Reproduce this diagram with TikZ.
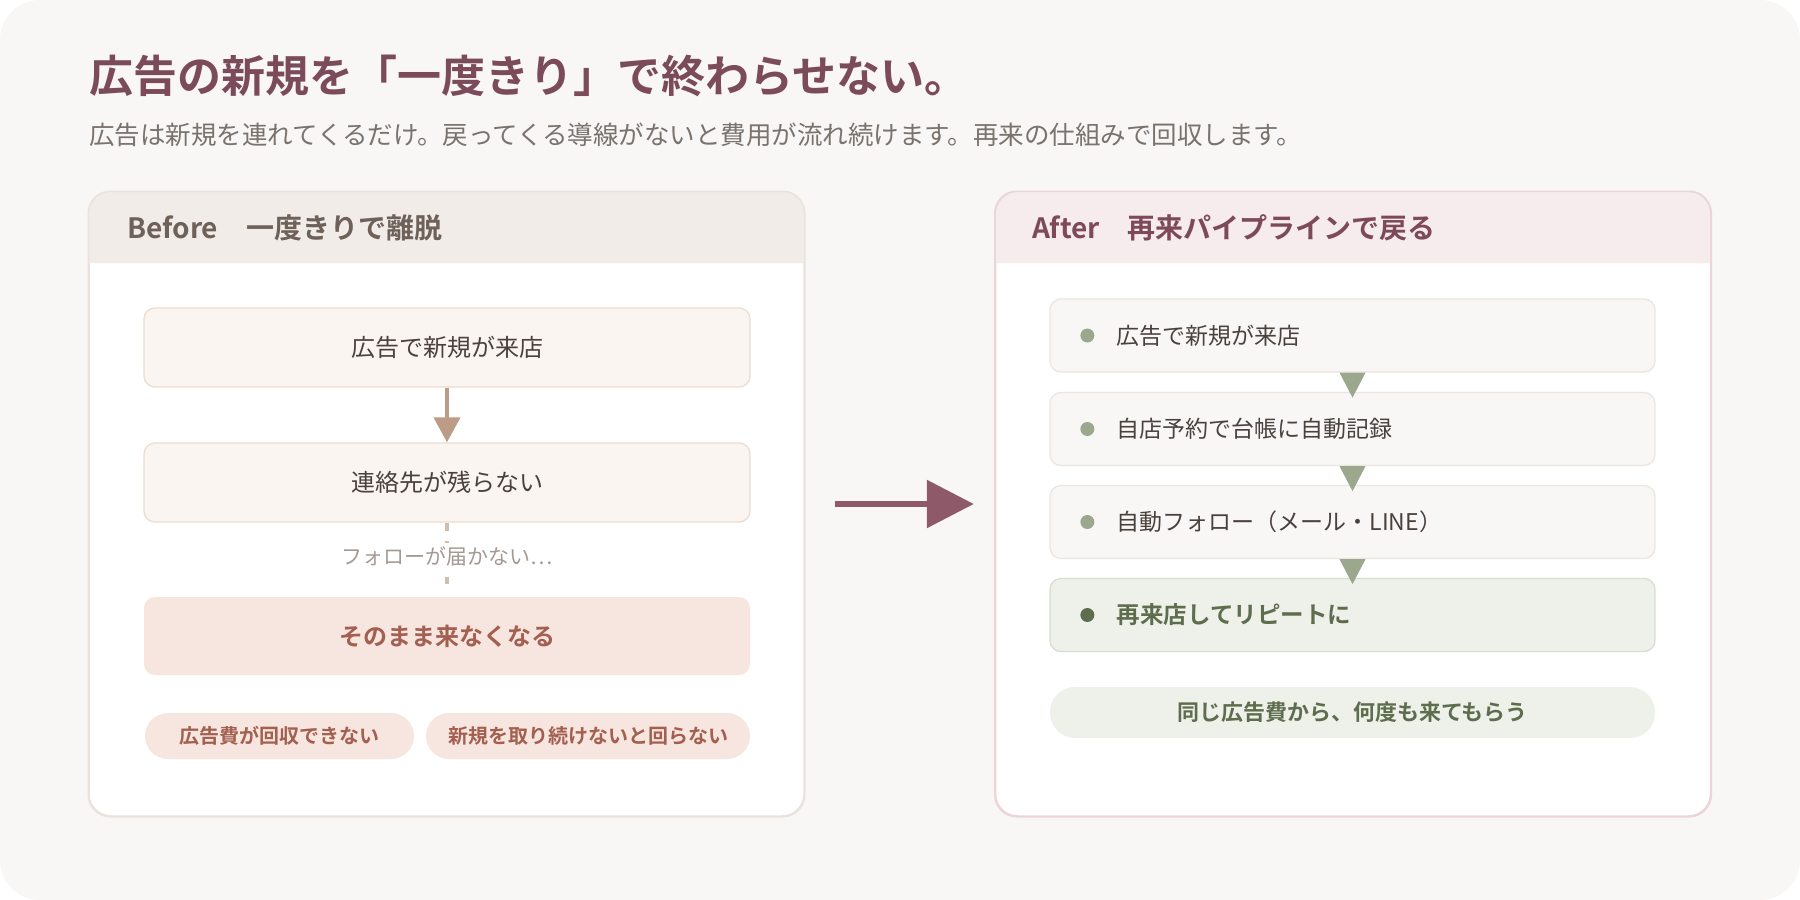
\documentclass[tikz,border=0pt]{standalone}
\usepackage{fontspec}
\setmainfont{Noto Sans CJK JP}[BoldFont={Noto Sans CJK JP Bold}]
\usetikzlibrary{arrows.meta,positioning}
\definecolor{bgcol}{HTML}{F8F7F5}
\definecolor{titlecol}{HTML}{7B4B5B}
\definecolor{subcol}{HTML}{7A726D}
\definecolor{ink}{HTML}{4A413D}
\definecolor{beforecol}{HTML}{6E6159}
\definecolor{beforehd}{HTML}{F1ECE8}
\definecolor{beforeln}{HTML}{EAE3DD}
\definecolor{aftercol}{HTML}{7E4A5B}
\definecolor{afterhd}{HTML}{F6ECEE}
\definecolor{afterln}{HTML}{EBD5DA}
\definecolor{sandfill}{HTML}{FAF5F1}
\definecolor{sandln}{HTML}{EDDDD0}
\definecolor{sandarr}{HTML}{BC9C87}
\definecolor{dashcol}{HTML}{D0BFAF}
\definecolor{notecol}{HTML}{A59A93}
\definecolor{rosefill}{HTML}{F7E6DF}
\definecolor{rosetext}{HTML}{A35F4F}
\definecolor{greyfill}{HTML}{F8F7F5}
\definecolor{greyln}{HTML}{ECE6E0}
\definecolor{sage}{HTML}{9BA88E}
\definecolor{sagefill}{HTML}{EEF1EA}
\definecolor{sageln}{HTML}{D8DECE}
\definecolor{moss}{HTML}{5E6D4D}
\definecolor{plum}{HTML}{8E5A69}
\begin{document}
\begin{tikzpicture}[x=1pt,y=-1pt,
    panel/.style={fill=white, line width=1.5pt, rounded corners=22pt, minimum width=715pt, minimum height=624pt, inner sep=0pt},
    flowbox/.style={draw=sandln, fill=sandfill, line width=1.3pt, rounded corners=11pt, minimum width=606pt, minimum height=79pt, inner sep=0pt, text=ink, font=\fontsize{24}{28}\selectfont},
    stepcard/.style={draw=greyln, fill=greyfill, line width=1.3pt, rounded corners=11pt, minimum width=605pt, minimum height=73pt, inner sep=0pt},
    pill/.style={fill=rosefill, rounded corners=23pt, minimum height=46pt, inner sep=0pt, text=rosetext, font=\fontsize{20}{24}\selectfont\bfseries},
    dot/.style={circle, fill=sage, minimum size=14pt, inner sep=0pt},
    steptext/.style={anchor=west, inner sep=0pt, text=ink, font=\fontsize{23}{27}\selectfont}]
  \useasboundingbox (0,0) rectangle (1800,900);
  \fill[white] (0,0) rectangle (1800,900);
  \fill[bgcol, rounded corners=40pt] (0,0) rectangle (1800,900);

  \node[anchor=west, inner sep=0pt, text=titlecol, font=\fontsize{44}{50}\selectfont\bfseries] (title) at (89,76) {広告の新規を「一度きり」で終わらせない。};
  \node[anchor=west, inner sep=0pt, text=subcol, font=\fontsize{25.5}{30}\selectfont] (subtitle) at (89,135) {広告は新規を連れてくるだけ。戻ってくる導線がないと費用が流れ続けます。再来の仕組みで回収します。};

  % before
  \node[panel, draw=beforeln] (leftpanel) at (446.5,504) {};
  \fill[beforehd, rounded corners=22pt] (89,263) -- (89,192) -- (804,192) -- (804,263);
  \draw[beforeln, line width=1.5pt, rounded corners=22pt] (leftpanel.south west) rectangle (leftpanel.north east);
  \node[anchor=west, inner sep=0pt, text=beforecol, font=\fontsize{28}{32}\selectfont\bfseries] (beforehead) at (127,228) {Before　一度きりで離脱};

  \node[flowbox] (visit) at (447,347.5) {広告で新規が来店};
  \node[flowbox] (nocontact) at (447,482.5) {連絡先が残らない};
  \node[flowbox, draw=none, fill=rosefill, minimum height=78pt, text=rosetext, font=\fontsize{24}{28}\selectfont\bfseries] (gone) at (447,636) {そのまま来なくなる};
  \draw[sandarr, line width=4pt, -{Triangle[width=26pt,length=25pt]}] (visit) -- (nocontact);
  \draw[dashcol, line width=3.5pt, dash pattern=on 8pt off 10pt] (nocontact.south) -- ([yshift=12pt]gone.north);
  \node[fill=white, inner xsep=2pt, inner ysep=3pt, text=notecol, font=\fontsize{21}{25}\selectfont] (nofollow) at (447,556) {フォローが届かない…};

  \node[pill, minimum width=269pt] (lost) at (279.5,736) {広告費が回収できない};
  \node[pill, minimum width=324pt] (treadmill) at (588,736) {新規を取り続けないと回らない};

  % after
  \node[panel, draw=afterln] (rightpanel) at (1353,504) {};
  \fill[afterhd, rounded corners=22pt] (996,263) -- (996,192) -- (1710,192) -- (1710,263);
  \draw[afterln, line width=1.5pt, rounded corners=22pt] (rightpanel.south west) rectangle (rightpanel.north east);
  \node[anchor=west, inner sep=0pt, text=aftercol, font=\fontsize{28}{32}\selectfont\bfseries] (afterhead) at (1032,228) {After　再来パイプラインで戻る};

  \node[stepcard] (stepA) at (1352.5,335.5) {};
  \node[stepcard] (stepB) at (1352.5,429) {};
  \node[stepcard] (stepC) at (1352.5,522) {};
  \node[stepcard, draw=sageln, fill=sagefill] (stepD) at (1352.5,615) {};
  \foreach \a/\b in {stepA/stepB, stepB/stepC, stepC/stepD}
    \fill[sage] ([xshift=-13pt]\a.south) -- ([xshift=13pt]\a.south) -- ([yshift=-25pt]\a.south) -- cycle;

  \node[dot] (dotA) at ([xshift=38pt]stepA.west) {};
  \node[steptext, right=22pt of dotA] (textA) {広告で新規が来店};
  \node[dot] (dotB) at ([xshift=38pt]stepB.west) {};
  \node[steptext, right=22pt of dotB] (textB) {自店予約で台帳に自動記録};
  \node[dot] (dotC) at ([xshift=38pt]stepC.west) {};
  \node[steptext, right=22pt of dotC] (textC) {自動フォロー（メール・LINE）};
  \node[dot, fill=moss] (dotD) at ([xshift=38pt]stepD.west) {};
  \node[steptext, right=22pt of dotD, text=moss, font=\fontsize{23.5}{27}\selectfont\bfseries] (textD) {再来店してリピートに};

  \node[pill, fill=sagefill, text=moss, minimum width=605pt, minimum height=51pt, rounded corners=25pt, font=\fontsize{22}{26}\selectfont\bfseries] (again) at (1352.5,712.5) {同じ広告費から、何度も来てもらう};

  \draw[plum, line width=6pt, shorten <=30pt, shorten >=21pt, -{Triangle[width=47pt,length=47pt]}] (leftpanel.east) -- (rightpanel.west);
\end{tikzpicture}
\end{document}
